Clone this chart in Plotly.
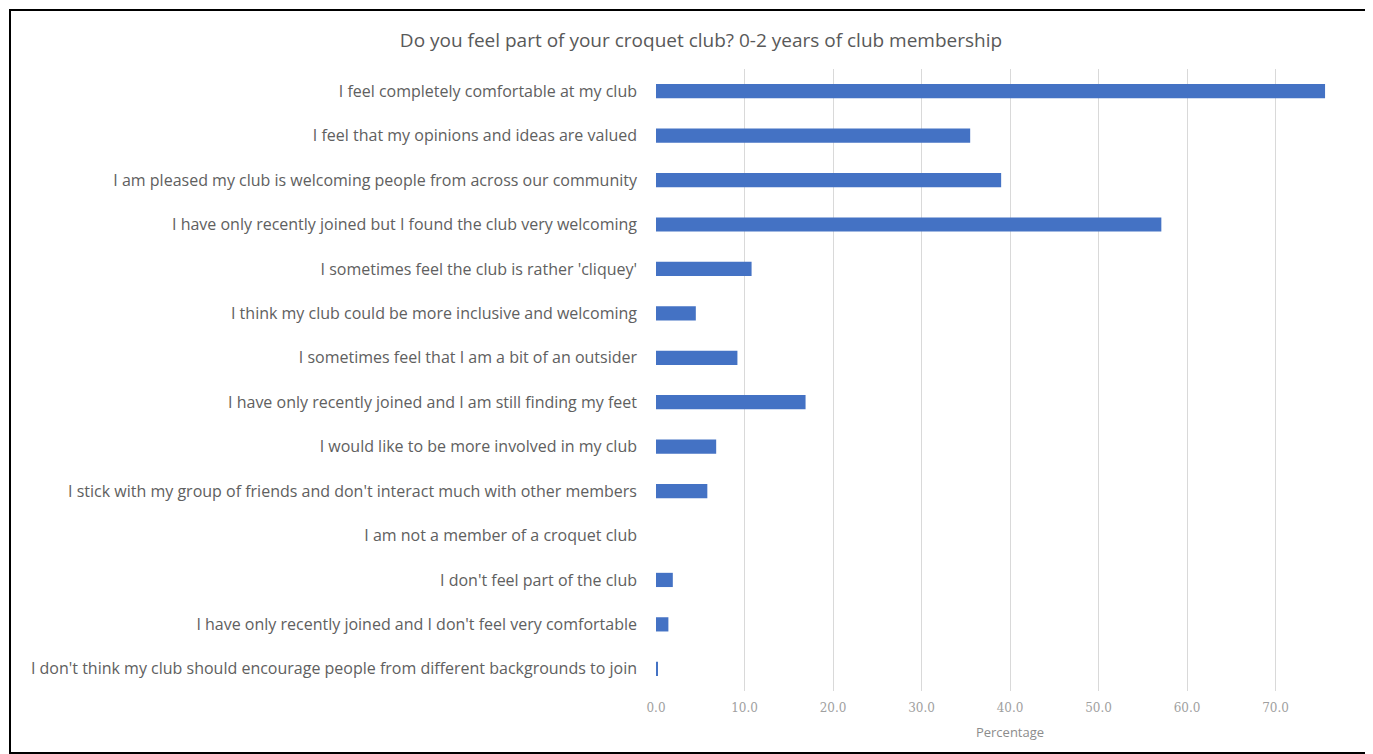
import plotly.graph_objects as go

categories = [
    "I feel completely comfortable at my club",
    "I feel that my opinions and ideas are valued",
    "I am pleased my club is welcoming people from across our community",
    "I have only recently joined but I found the club very welcoming",
    "I sometimes feel the club is rather 'cliquey'",
    "I think my club could be more inclusive and welcoming",
    "I sometimes feel that I am a bit of an outsider",
    "I have only recently joined and I am still finding my feet",
    "I would like to be more involved in my club",
    "I stick with my group of friends and don't interact much with other members",
    "I am not a member of a croquet club",
    "I don't feel part of the club",
    "I have only recently joined and I don't feel very comfortable",
    "I don't think my club should encourage people from different backgrounds to join",
]
percentages = [75.6, 35.5, 39.0, 57.1, 10.8, 4.5, 9.2, 16.9, 6.8, 5.8, 0.0, 1.9, 1.4, 0.2]
tick_values = [0, 10, 20, 30, 40, 50, 60, 70, 80]
tick_labels = ["0.0", "10.0", "20.0", "30.0", "40.0", "50.0", "60.0", "70.0", "80.0"]

# page has an 8px body margin; compensate so the figure lands where the reference is
OFF = 8
W, H = 1373 - OFF, 754 - OFF
ml, mr, mt, mb = 656 - OFF, 1373 - 1364, 69 - OFF, 754 - 691
pw, ph = W - ml - mr, H - mt - mb

fig = go.Figure(go.Bar(
    x=percentages,
    y=categories,
    orientation="h",
    marker=dict(color="#4472C4", line=dict(width=0)),
    width=0.32,
))

def px_to_paper_x(px):
    return (px - OFF - ml) / pw

def px_to_paper_y(py):
    return (H - mb - (py - OFF)) / ph

fig.update_layout(
    width=W, height=H,
    margin=dict(l=ml, r=mr, t=mt, b=mb, pad=0),
    paper_bgcolor="white", plot_bgcolor="white",
    showlegend=False,
    font=dict(family="Open Sans", color="#595959"),
    title=dict(
        text="Do you feel part of your croquet club? 0-2 years of club membership",
        x=(701 - OFF) / W, xanchor="center", y=1 - (40 - OFF) / H, yanchor="middle",
        font=dict(size=19, color="#595959", family="Open Sans"),
    ),
    xaxis=dict(
        range=[0, 80], tickvals=tick_values, ticktext=tick_labels,
        showgrid=True, gridcolor="#d9d9d9", gridwidth=1,
        zeroline=False, showline=False, ticks="",
        tickfont=dict(size=12, color="#a0a0a0", family="DejaVu Serif"),
        ticklabelstandoff=8,
        title=dict(text="Percentage", font=dict(size=13, color="#8c8c8c"), standoff=13),
    ),
    yaxis=dict(
        autorange="reversed",
        showgrid=False, zeroline=False, showline=False, ticks="",
        tickfont=dict(size=16, color="#606060", family="Open Sans"),
        ticklabelstandoff=18,
    ),
    shapes=[dict(
        type="rect", xref="paper", yref="paper",
        x0=px_to_paper_x(10), x1=px_to_paper_x(1367),
        y0=px_to_paper_y(753), y1=px_to_paper_y(10),
        line=dict(color="black", width=2), fillcolor="rgba(0,0,0,0)", layer="above",
    )],
)

fig.write_html("out.html")
